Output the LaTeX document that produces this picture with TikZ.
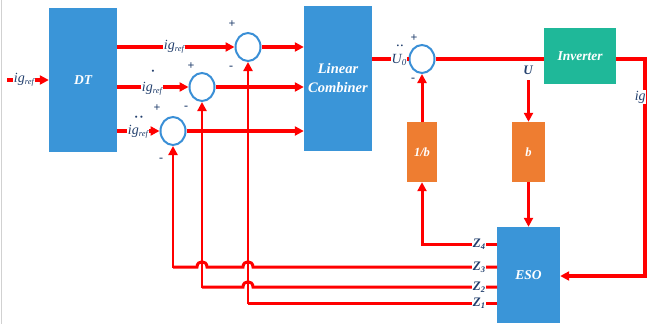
\documentclass[tikz,border=0pt]{standalone}
\usepackage{fontspec}
\setmainfont{Liberation Serif}
\usetikzlibrary{arrows.meta,shapes.geometric}
\definecolor{boxblue}{HTML}{3A95D8}
\definecolor{invgreen}{HTML}{1FB899}
\definecolor{orng}{HTML}{EE7D31}
\definecolor{sumblue}{HTML}{3A8FD6}
\definecolor{lbl}{HTML}{23406E}
\tikzset{
  blk/.style={draw=none,fill=boxblue,text=white,font=\fontsize{13.5}{15}\selectfont\bfseries\itshape,align=center,inner sep=0pt},
  gainbox/.style={blk,fill=orng,font=\fontsize{12.5}{14}\selectfont\bfseries\itshape},
  sumnode/.style={ellipse,draw=sumblue,line width=2pt,fill=white,minimum width=25pt,minimum height=28pt,inner sep=0pt},
  sig/.style={red,line width=3.5pt},
  fb/.style={red,line width=2.5pt},
  tip/.style={-{Triangle[length=9pt,width=9pt]}},
  sgn/.style={text=lbl,font=\fontsize{12}{12}\selectfont\bfseries,inner sep=0pt},
  lab/.style={text=lbl,font=\fontsize{14}{14}\selectfont\itshape,fill=white,inner sep=0.6pt},
  zlab/.style={text=lbl,font=\fontsize{13}{13}\selectfont\bfseries\itshape,fill=white,inner xsep=1pt,inner ysep=0pt},
}
\newcommand{\igref}{ig\raisebox{-0.35ex}{\fontsize{8.5}{8.5}\selectfont ref}}
\begin{document}
\begin{tikzpicture}[x=1pt,y=-1pt]
\useasboundingbox (0,0) rectangle (647,324);
\draw[black!18,line width=1pt] (1,0) -- (1,324);

% blocks
\node[blk,minimum width=68pt,minimum height=144pt] (dt) at (83,80) {DT};
\node[blk,font=\fontsize{14.5}{16}\selectfont\bfseries\itshape,minimum width=68pt,minimum height=145pt] (lc) at (338,78.5) {Linear\\[3pt]Combiner};
\node[blk,fill=invgreen,minimum width=72pt,minimum height=56pt] (inv) at (580,56) {Inverter};
\node[gainbox,minimum width=30pt,minimum height=60pt] (ib) at (422,152) {1/b};
\node[gainbox,minimum width=33pt,minimum height=60pt] (gb) at (528.5,152) {b};
\node[blk,minimum width=63pt,minimum height=96pt] (eso) at (528.5,275) {ESO};

% summing junctions
\node[sumnode] (s1) at (248,47) {};
\node[sumnode] (s2) at (202,87) {};
\node[sumnode] (s3) at (173,131) {};
\node[sumnode] (s4) at (422,59) {};

% reference input
\coordinate (in) at (7,80);
\draw[sig,tip] (in) -- (dt.west |- in);
\node[lab] (lin) at (24,80) {\igref};

% derivative outputs of DT
\draw[sig,tip] (dt.east |- s1) -- (s1.west);
\draw[sig,tip] (dt.east |- s2) -- (s2.west);
\draw[sig,tip] (dt.east |- s3) -- (s3.west);
\node[lab] (l1) at (174,47) {\igref};
\node[lab] (l2) at (152,89) {\igref};
\node[lab] (l3) at (138,132) {\igref};
\node[text=lbl,font=\fontsize{13}{13}\selectfont\bfseries,inner sep=0pt] (d2) at (153,73) {·};
\node[text=lbl,font=\fontsize{13}{13}\selectfont\bfseries,inner sep=0pt] (d3) at (139,119) {·\kern1pt·};

% errors into the linear combiner
\draw[sig,tip] (s1.east) -- (lc.west |- s1);
\draw[sig,tip] (s2.east) -- (lc.west |- s2);
\draw[sig,tip] (s3.east) -- (lc.west |- s3);

% signs
\node[sgn] (p1) at (232,24) {+};
\node[sgn] (m1) at (231,68) {-};
\node[sgn] (p2) at (191,66) {+};
\node[sgn] (m2) at (186,108) {-};
\node[sgn] (p3) at (157,108) {+};
\node[sgn] (m3) at (161,160) {-};
\node[sgn] (p4) at (414,38) {+};
\node[sgn] (m4) at (413,80) {-};

% control path
\draw[sig] (lc.east |- s4) -- (s4.west);
\node[lab] (lu0) at (399,60) {U\raisebox{-0.35ex}{\fontsize{9}{9}\selectfont 0}};
\node[text=lbl,font=\fontsize{11}{11}\selectfont\bfseries,inner sep=0pt] (du0) at (400,47) {·\kern0.5pt·};
\draw[sig] (s4.east) -- (inv.west |- s4);
\coordinate (rc) at (645,59);
\coordinate (rb) at (645,276);
\draw[sig,tip] (inv.east |- rc) -- (rc) -- (rb) -- (eso.east |- rb);
\node[lab,anchor=east] (lig) at (646.5,97) {ig};

% gain paths
\node[lab,font=\fontsize{13}{13}\selectfont\bfseries\itshape] (lu) at (528,70) {U};
\coordinate (ut) at (528.5,80);
\draw[sig,line width=3pt,tip] (ut) -- (gb.north);
\draw[sig,line width=3pt,tip] (gb.south) -- (eso.north);
\draw[sig,line width=3pt,tip] (ib.north) -- (s4.south);

% observer states
\coordinate (z4) at (497,244);
\coordinate (z3) at (497,267);
\coordinate (z2) at (497,287);
\coordinate (z1) at (497,303);
\draw[sig,line width=3pt,tip] (z4) -- (422,244) -- (ib.south);
\draw[fb,line width=3pt] (z3) -- (253,267) .. controls (253,260) and (243,260) .. (243,267) -- (207,267) .. controls (207,260) and (197,260) .. (197,267) -- (173,267);
\draw[fb,tip] (173,268.2) -- (s3.south);
\draw[fb,line width=3pt] (z2) -- (253,287) .. controls (253,280) and (243,280) .. (243,287) -- (202,287);
\draw[fb,tip] (202,288.2) -- (s2.south);
\draw[fb,line width=3pt] (z1) -- (248,303);
\draw[fb,tip] (248,304.2) -- (s1.south);
\node[zlab] (tz4) at (479,244) {Z\raisebox{-0.4ex}{\fontsize{8.5}{8.5}\selectfont 4}};
\node[zlab] (tz3) at (479,267) {Z\raisebox{-0.4ex}{\fontsize{8.5}{8.5}\selectfont 3}};
\node[zlab] (tz2) at (479,287) {Z\raisebox{-0.4ex}{\fontsize{8.5}{8.5}\selectfont 2}};
\node[zlab] (tz1) at (479,303) {Z\raisebox{-0.4ex}{\fontsize{8.5}{8.5}\selectfont 1}};
\end{tikzpicture}
\end{document}
